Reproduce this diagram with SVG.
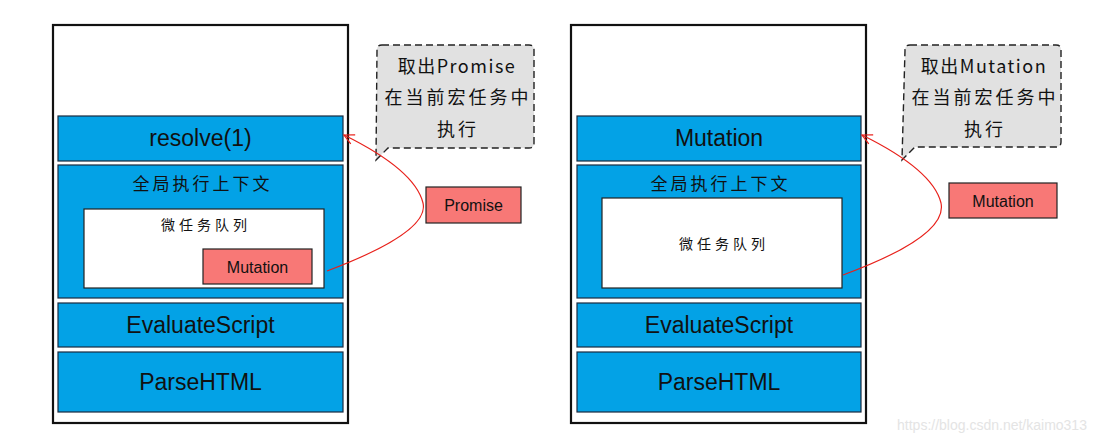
<svg xmlns="http://www.w3.org/2000/svg" width="1110" height="443" viewBox="0 0 1110 443">
<style>
.outer{fill:#fff;stroke:#111;stroke-width:2.2}
.blue{fill:#03a2e6;stroke:#1a2a40;stroke-width:1.2}
.white{fill:#fff;stroke:#222;stroke-width:1.2}
.red{fill:#f87876;stroke:#222;stroke-width:1.2}
.call{fill:#e1e1e1;stroke:#222;stroke-width:1.4;stroke-dasharray:7 4}
.conn{fill:none;stroke:#e8201a;stroke-width:1.2}
text{font-family:"Liberation Sans","Noto Sans CJK SC",sans-serif;fill:#111;text-anchor:middle}
.big{font-size:23px}
.mid{font-size:16px}
.cjk{font-family:"Noto Sans CJK SC","Liberation Sans",sans-serif}
.ctx{font-size:17px;letter-spacing:3px}
.sm{font-size:14px;letter-spacing:4px}
.cl{font-size:18px;letter-spacing:3px}
.cl2{font-size:18px;letter-spacing:1.5px}
</style>
<defs>
<marker id="arr" viewBox="0 0 12 12" refX="11" refY="6" markerWidth="12" markerHeight="12" markerUnits="userSpaceOnUse" orient="auto">
<path d="M1,1 L11,6 L1,11" fill="none" stroke="#e8201a" stroke-width="1.2"/>
</marker>
</defs>
<rect width="1110" height="443" fill="#fff"/>

<g id="left-stack">
<rect class="outer" x="53" y="25" width="295" height="398"/>
<g id="l-resolve"><rect class="blue" x="58" y="116" width="285" height="45"/><text class="big" x="200.5" y="146">resolve(1)</text></g>
<g id="l-global"><rect class="blue" x="58" y="165" width="285" height="133"/><text class="cjk ctx" x="202.5" y="190">全局执行上下文</text></g>
<g id="l-micro"><rect class="white" x="84" y="209" width="240" height="79"/><text class="cjk sm" x="206" y="230">微任务队列</text></g>
<g id="l-mutation"><rect class="red" x="203" y="249" width="109" height="35"/><text class="mid" x="257.5" y="273">Mutation</text></g>
<g id="l-eval"><rect class="blue" x="58" y="303" width="285" height="44"/><text class="big" x="200.5" y="333">EvaluateScript</text></g>
<g id="l-parse"><rect class="blue" x="58" y="352" width="285" height="60"/><text class="big" x="200.5" y="390">ParseHTML</text></g>
</g>

<g id="l-callout">
<path class="call" d="M382,45 H529 Q534,45 534,50 V143 Q534,148 529,148 H388 L376,160 L377,50 Q377,45 382,45 Z"/>
<text class="cjk cl2" x="457" y="73">取出Promise</text>
<text class="cjk cl" x="458" y="104">在当前宏任务中</text>
<text class="cjk cl" x="458" y="136">执行</text>
</g>
<g id="l-promise"><rect class="red" x="426" y="187" width="95" height="36"/><text class="mid" x="473.5" y="211">Promise</text></g>

<g id="right-stack">
<rect class="outer" x="571" y="25" width="295" height="398"/>
<g id="r-mutation-top"><rect class="blue" x="577" y="116" width="284" height="45"/><text class="big" x="719" y="146">Mutation</text></g>
<g id="r-global"><rect class="blue" x="577" y="165" width="284" height="133"/><text class="cjk ctx" x="720.5" y="190">全局执行上下文</text></g>
<g id="r-micro"><rect class="white" x="602" y="198" width="240" height="90"/><text class="cjk sm" x="724" y="249">微任务队列</text></g>
<g id="r-eval"><rect class="blue" x="577" y="303" width="284" height="44"/><text class="big" x="719" y="333">EvaluateScript</text></g>
<g id="r-parse"><rect class="blue" x="577" y="352" width="284" height="60"/><text class="big" x="719" y="390">ParseHTML</text></g>
</g>

<g id="r-callout">
<path class="call" d="M910,45 H1056 Q1061,45 1061,50 V142 Q1061,147 1056,147 H915 L902,160 L905,50 Q905,45 910,45 Z"/>
<text class="cjk cl2" x="984" y="73">取出Mutation</text>
<text class="cjk cl" x="985" y="104">在当前宏任务中</text>
<text class="cjk cl" x="985" y="136">执行</text>
</g>
<g id="r-mutation"><rect class="red" x="949" y="183" width="108" height="35"/><text class="mid" x="1003" y="207">Mutation</text></g>

<g id="connectors">
<path class="conn" d="M327,271 Q430,232 423,203 Q415,170 344,135" marker-end="url(#arr)"/>
<path class="conn" d="M843,275 Q948,236 941,203 Q933,170 862,135" marker-end="url(#arr)"/>
</g>

<text x="992" y="430" style="font-size:14px;fill:#e4e4e4">https://blog.csdn.net/kaimo313</text>
</svg>
